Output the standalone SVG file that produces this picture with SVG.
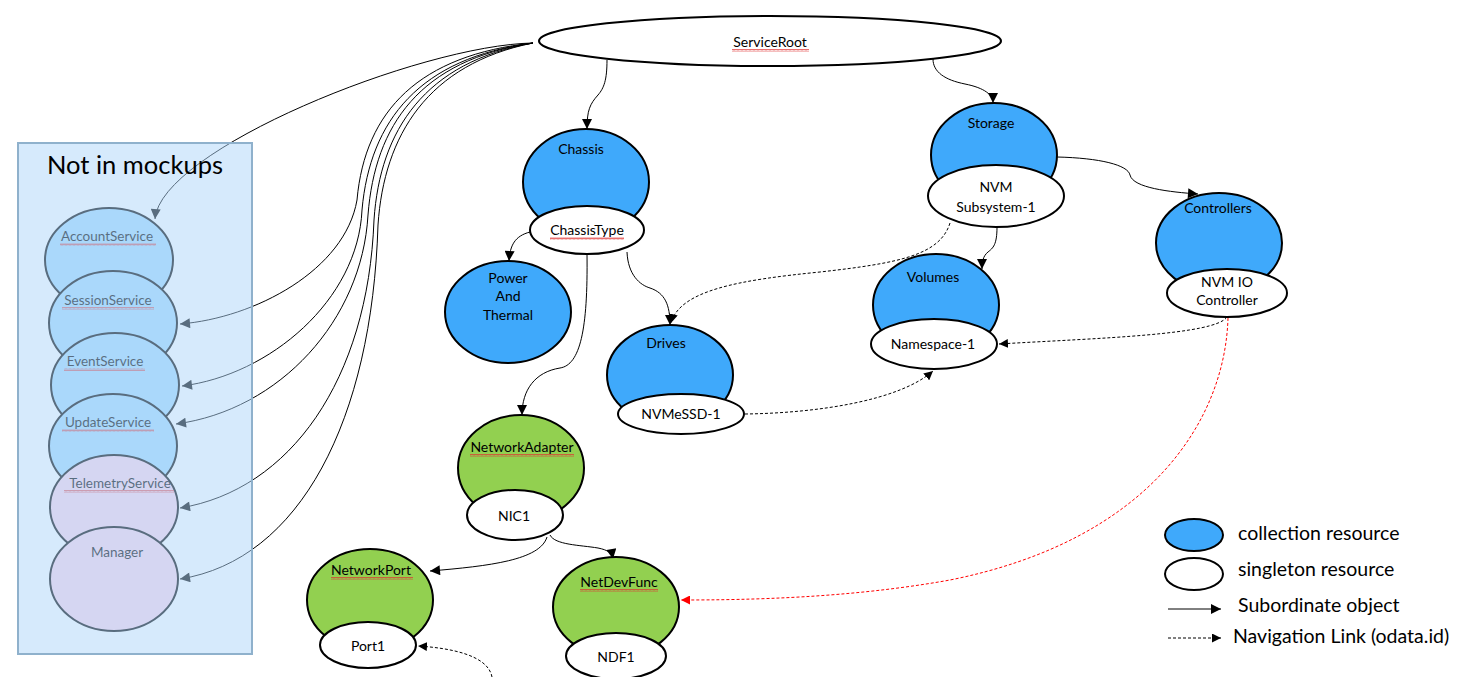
<svg xmlns="http://www.w3.org/2000/svg" width="1470" height="677" viewBox="0 0 1470 677">
<defs>
<style>
.lbl{font-family:Lato,"Liberation Sans",sans-serif;font-size:14px;fill:#000;text-anchor:middle}
.svc{font-family:Lato,"Liberation Sans",sans-serif;font-size:13.5px;fill:#000;text-anchor:middle}
.leg{font-family:Lato,"Liberation Sans",sans-serif;font-size:19.5px;fill:#000}
.coll{fill:#3fa9fb;stroke:#000;stroke-width:2}
.sing{fill:#fff;stroke:#000;stroke-width:2}
.grn{fill:#92d050;stroke:#000;stroke-width:2}
.sb{fill:#a5dafd;stroke:#000;stroke-width:2}
.sl{fill:#fdd6eb;stroke:#000;stroke-width:2}
.c{fill:none;stroke:#000;stroke-width:1;marker-end:url(#ah)}
.d{fill:none;stroke:#000;stroke-width:1;stroke-dasharray:3 2;marker-end:url(#ahs)}
.r{fill:none;stroke:#ff0000;stroke-width:1;stroke-dasharray:3 2;marker-end:url(#ahr)}
.sq{fill:url(#squig)}
</style>
<marker id="ah" viewBox="0 0 10 10" refX="10" refY="5" markerWidth="11" markerHeight="10" markerUnits="userSpaceOnUse" orient="auto"><path d="M0,0L10,5L0,10z" fill="#000"/></marker>
<marker id="ahs" viewBox="0 0 10 10" refX="10" refY="5" markerWidth="9" markerHeight="9" markerUnits="userSpaceOnUse" orient="auto"><path d="M0,0L10,5L0,10z" fill="#000"/></marker>
<marker id="ahr" viewBox="0 0 10 10" refX="10" refY="5" markerWidth="9" markerHeight="9" markerUnits="userSpaceOnUse" orient="auto"><path d="M0,0L10,5L0,10z" fill="#ff0000"/></marker>
<pattern id="squig" width="4" height="3" patternUnits="userSpaceOnUse"><path d="M0,2.5L1,0.5L2,2.5L3,0.5L4,2.5" fill="none" stroke="#e03030" stroke-width="0.7"/></pattern>
</defs>
<rect width="1470" height="677" fill="#fff"/>

<g id="services">
<g id="AccountService"><ellipse class="sb" cx="109" cy="260" rx="64" ry="52"/><text class="svc" x="107" y="241">AccountService</text><rect class="sq" x="60" y="243" width="96" height="3"/></g>
<g id="SessionService"><ellipse class="sb" cx="113" cy="323" rx="64" ry="52"/><text class="svc" x="108" y="305">SessionService</text><rect class="sq" x="62" y="307" width="92" height="3"/></g>
<g id="EventService"><ellipse class="sb" cx="115" cy="385" rx="64" ry="52"/><text class="svc" x="105" y="366">EventService</text><rect class="sq" x="64" y="368" width="81" height="3"/></g>
<g id="UpdateService"><ellipse class="sb" cx="113" cy="446" rx="64" ry="52"/><text class="svc" x="108" y="427">UpdateService</text><rect class="sq" x="62" y="429" width="92" height="3"/></g>
<g id="TelemetryService"><ellipse class="sl" cx="114" cy="507" rx="64" ry="52"/><text class="svc" x="120" y="488">TelemetryService</text><rect class="sq" x="64" y="490" width="110" height="3"/></g>
<g id="Manager"><ellipse class="sl" cx="114" cy="579" rx="64" ry="52"/><text class="svc" x="117" y="557">Manager</text></g>
</g>

<g id="connectors">
<path class="c" d="M533,43 C420,45 160,150 155,219"/>
<path class="c" d="M533,43 C420,55 365,110 357,200 C345,270 255,318 180,324"/>
<path class="c" d="M533,43 C420,58 370,120 362,210 C358,300 270,375 182,386"/>
<path class="c" d="M533,43 C420,60 375,125 368,215 C362,320 280,410 176,424"/>
<path class="c" d="M533,43 C425,62 380,130 374,220 C368,380 290,490 180,508"/>
<path class="c" d="M533,43 C428,64 384,135 378,225 C372,420 300,560 180,579"/>
<path class="c" d="M607,60 C607,80 604,88 598,95 C590,104 587,110 587,129"/>
<path class="c" d="M933,59 C933,72 945,80 965,84 C985,88 993,95 993,103"/>
<path class="c" d="M530,232 C515,236 510,245 509,261"/>
<path class="c" d="M587,254 C588,330 580,365 560,368 C535,372 522,390 522,415"/>
<path class="c" d="M627,252 C628,275 640,285 650,288 C665,293 670,305 670,325"/>
<path class="c" d="M1057,157 C1100,158 1128,165 1130,175 C1133,188 1170,192 1198,194"/>
<path class="c" d="M997,227 C997,245 993,248 988,252 C983,256 982,262 982,269"/>
<path class="c" d="M547,537 C540,560 490,566 430,571"/>
<path class="c" d="M550,535 C555,545 580,545 598,548 C608,550 612,553 613,559"/>
<path class="d" d="M950,223 C940,255 900,263 820,272 C740,280 680,290 671,323"/>
<path class="d" d="M745,414 C820,413 900,400 933,371"/>
<path class="d" d="M1227,317 C1215,335 1100,338 999,344"/>
<path class="d" d="M492,677 C488,655 450,648 418,646"/>
<path class="r" d="M1228,318 C1225,420 1150,540 950,580 C850,598 750,600 681,600"/>
</g>

<g id="NotInMockups">
<rect x="18" y="143" width="234" height="511" fill="#afd6f9" fill-opacity="0.51" stroke="#8fb1cc" stroke-width="2"/>
<text x="135" y="174" style="font-family:Lato,'Liberation Sans',sans-serif;font-size:25.5px;text-anchor:middle;fill:#000">Not in mockups</text>
</g>

<g id="ServiceRoot"><ellipse class="sing" cx="770" cy="41" rx="231" ry="25"/><text class="lbl" x="770" y="47">ServiceRoot</text><rect class="sq" x="732" y="49" width="77" height="3"/></g>
<g id="Chassis"><ellipse class="coll" cx="586" cy="182" rx="63" ry="53"/><text class="lbl" x="581" y="154">Chassis</text></g>
<g id="ChassisType"><ellipse class="sing" cx="587" cy="230" rx="57" ry="24"/><text class="lbl" x="587" y="235">ChassisType</text><rect class="sq" x="550" y="237" width="74" height="3"/></g>
<g id="PowerAndThermal"><ellipse class="coll" cx="508" cy="312" rx="63" ry="51"/><text class="lbl" x="508" y="283">Power</text><text class="lbl" x="508" y="301">And</text><text class="lbl" x="508" y="320">Thermal</text></g>
<g id="Drives"><ellipse class="coll" cx="670" cy="375" rx="63" ry="50"/><text class="lbl" x="666" y="348">Drives</text></g>
<g id="NVMeSSD-1"><ellipse class="sing" cx="681" cy="414" rx="63" ry="20"/><text class="lbl" x="681" y="419">NVMeSSD-1</text></g>
<g id="Storage"><ellipse class="coll" cx="994" cy="155" rx="63" ry="52"/><text class="lbl" x="991" y="128">Storage</text></g>
<g id="NVMSubsystem-1"><ellipse class="sing" cx="996" cy="196" rx="68" ry="31"/><text class="lbl" x="996" y="192">NVM</text><text class="lbl" x="996" y="212">Subsystem-1</text></g>
<g id="Controllers"><ellipse class="coll" cx="1219" cy="243" rx="63" ry="50"/><text class="lbl" x="1218" y="213">Controllers</text></g>
<g id="NVMIOController"><ellipse class="sing" cx="1227" cy="293" rx="60" ry="24"/><text class="lbl" x="1227" y="287">NVM IO</text><text class="lbl" x="1227" y="305">Controller</text></g>
<g id="Volumes"><ellipse class="coll" cx="936" cy="305" rx="63" ry="51"/><text class="lbl" x="933" y="282">Volumes</text></g>
<g id="Namespace-1"><ellipse class="sing" cx="934" cy="344" rx="63" ry="25"/><text class="lbl" x="933" y="349">Namespace-1</text></g>
<g id="NetworkAdapter"><ellipse class="grn" cx="521" cy="468" rx="63" ry="53"/><text class="lbl" x="522" y="452">NetworkAdapter</text><rect class="sq" x="470" y="454" width="104" height="3"/></g>
<g id="NIC1"><ellipse class="sing" cx="515" cy="515" rx="48" ry="25"/><text class="lbl" x="514" y="521">NIC1</text></g>
<g id="NetworkPort"><ellipse class="grn" cx="370" cy="600" rx="63" ry="51"/><text class="lbl" x="371" y="575">NetworkPort</text><rect class="sq" x="331" y="577" width="82" height="3"/></g>
<g id="Port1"><ellipse class="sing" cx="368" cy="645" rx="48" ry="23"/><text class="lbl" x="368" y="651">Port1</text></g>
<g id="NetDevFunc"><ellipse class="grn" cx="616" cy="607" rx="63" ry="50"/><text class="lbl" x="619" y="587">NetDevFunc</text><rect class="sq" x="580" y="589" width="78" height="3"/></g>
<g id="NDF1"><ellipse class="sing" cx="616" cy="656" rx="50" ry="23"/><text class="lbl" x="616" y="662">NDF1</text></g>

<g id="legend">
<ellipse class="coll" cx="1194" cy="535" rx="29" ry="16"/>
<text class="leg" x="1238" y="540">collection resource</text>
<ellipse class="sing" cx="1194" cy="574" rx="29" ry="16"/>
<text class="leg" x="1238" y="576">singleton resource</text>
<path class="c" d="M1168,609 L1221,609"/>
<text class="leg" x="1238" y="612">Subordinate object</text>
<path class="d" d="M1168,638 L1221,638"/>
<text class="leg" x="1233" y="643">Navigation Link (odata.id)</text>
</g>
</svg>
